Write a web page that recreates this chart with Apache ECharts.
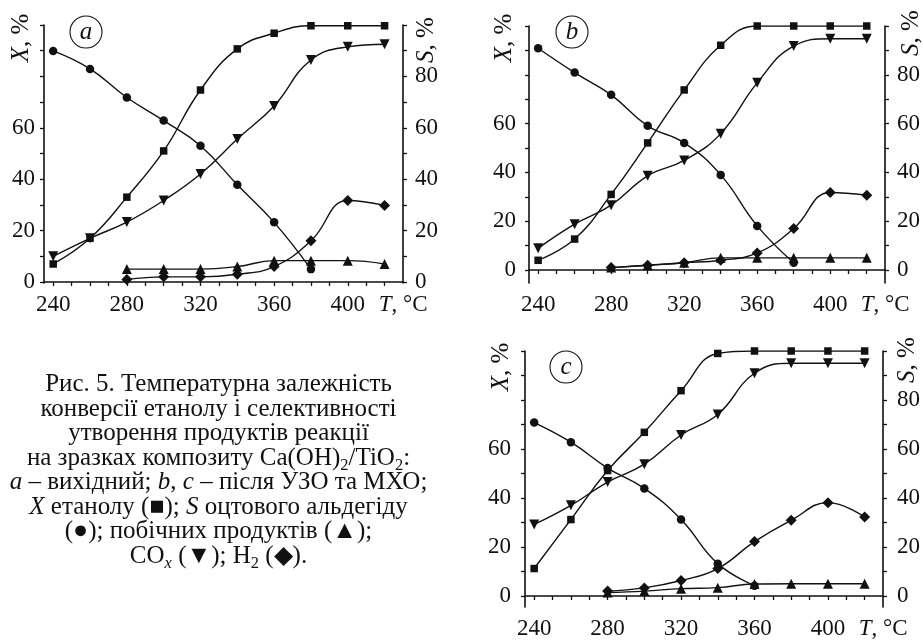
<!DOCTYPE html>
<html>
<head>
<meta charset="utf-8">
<script src="https://cdn.jsdelivr.net/npm/echarts@6/dist/echarts.min.js"></script>
<style>
  html, body { margin: 0; padding: 0; background: #fff; }
  #chart-container { position: absolute; left: 0; top: 0; width: 923px; height: 640px; }
  #caption {
    position: absolute; left: 0; top: 371px; width: 437px;
    text-align: center; white-space: nowrap;
    font-family: 'Liberation Serif', serif; font-size: 25px; line-height: 24.5px; color: #111;
  }
  #caption sub { font-size: 0.66em; line-height: 0; vertical-align: -0.3em; }
</style>
</head>
<body>
<div id="chart-container"></div>
<div id="caption">
  Рис. 5. Температурна залежність<br>
  конверсії етанолу і селективності<br>
  утворення продуктів реакції<br>
  на зразках композиту Ca(OH)<sub>2</sub>/TiO<sub>2</sub>:<br>
  <i>a</i> – вихідний; <i>b</i>, <i>c</i> – після УЗО та МХО;<br>
  <i>X</i> етанолу (■); <i>S</i> оцтового альдегіду<br>
  (●); побічних продуктів (▲);<br>
  CO<sub><i>x</i></sub> (▼); H<sub>2</sub> (◆).
</div>
<script>
// temperatures, °C
var temps = [240, 260, 280, 300, 320, 340, 360, 380, 400, 420];

// panel a – вихідний
var convA = [7, 17, 33, 51, 74.7, 90.7, 96.8, 99.7, 99.7, 99.7];
var acetA = [89.9, 82.9, 71.8, 62.8, 53, 37.8, 23.2, 5, null, null];
var coxA = [10, 17, 23.3, 31.7, 42, 55.6, 68.5, 86.4, 91.5, 92.5];
var byprodA = [null, null, 5, 5, 5, 6, 8.3, 8.3, 8.3, 7];
var h2A = [null, null, 1, 2, 2, 3, 6, 16, 31.7, 29.8];

// panel b – після УЗО
var convB = [4, 12.7, 31, 52.1, 73.8, 92.1, 100, 100, 100, 100];
var acetB = [90.9, 80.9, 71.8, 59.1, 52.1, 39, 18.1, 3, null, null];
var coxB = [8.9, 18.8, 26.6, 38.6, 44.9, 55.9, 76.7, 91.8, 94.8, 94.8];
var byprodB = [null, null, 1, 2, 3, 5, 5, 5, 5, 5];
var h2B = [null, null, 1, 2, 3, 4, 7, 17, 31.8, 30.7];

// panel c – після МХО
var convC = [11.2, 31.2, 51.2, 66.8, 83.8, 99, 100, 100, 100, 100];
var acetC = [70.8, 62.8, 52.2, 43.9, 31.2, 13.2, 4.2, null, null, null];
var coxC = [29.2, 37, 46.5, 53.8, 65.7, 74.1, 90.9, 95, 95, 95];
var byprodC = [null, null, 1.4, 2, 3, 3.4, 4.9, 5, 5, 5];
var h2C = [null, null, 2, 3.3, 6.3, 11.2, 22.2, 30.9, 38.1, 32.2];

var xTicks = [240, 250, 260, 270, 280, 290, 300, 310, 320, 330, 340, 350, 360, 370, 380, 390, 400, 410, 420];
var xLabels = [240, 280, 320, 360, 400, 420];
var yTicks = [0, 10, 20, 30, 40, 50, 60, 70, 80, 90, 100];
var yLabelsLeft = [0, 20, 40, 60];
var yLabelsRight = [0, 20, 40, 60, 80];

var FONT = 'Liberation Serif';
var INK = '#111';
var FS = 23;

var dom = document.getElementById('chart-container');
var myChart = echarts.init(dom, null, { renderer: 'canvas' });

function pairs(vals) {
  var out = [];
  for (var i = 0; i < temps.length; i++) {
    if (vals[i] !== null) out.push([temps[i], vals[i]]);
  }
  return out;
}

var panels = [
  { grid: { left: 44, top: 25, width: 359, height: 258 }, ymin: -0.4, ml: 9, mr: 12,
    sets: [convA, acetA, coxA, byprodA, h2A] },
  { grid: { left: 529, top: 26, width: 359, height: 257 }, ymin: -5.3, ml: 13, mr: 12,
    sets: [convB, acetB, coxB, byprodB, h2B] },
  { grid: { left: 525, top: 351, width: 358, height: 256 }, ymin: -4.5, ml: 14, mr: 14,
    sets: [convC, acetC, coxC, byprodC, h2C] }
];

var markers = [
  { symbol: 'rect', size: 7.5, rotate: 0 },
  { symbol: 'circle', size: 8.5, rotate: 0 },
  { symbol: 'triangle', size: 10, rotate: 180 },
  { symbol: 'triangle', size: 10, rotate: 0 },
  { symbol: 'diamond', size: 11, rotate: 0 }
];

var axisLine = { show: true, lineStyle: { color: INK, width: 1.6 } };
var tick = { show: true, length: 4, lineStyle: { color: INK, width: 1.3 } };

var grids = [], xAxes = [], yAxes = [], series = [];

panels.forEach(function (p, k) {
  grids.push(p.grid);
  xAxes.push({
    type: 'value', gridIndex: k, min: 235, max: 430,
    axisLine: axisLine, splitLine: { show: false },
    axisTick: Object.assign({ customValues: xTicks }, tick),
    axisLabel: {
      customValues: xLabels, margin: 10, color: INK, fontFamily: FONT, fontSize: FS,
      formatter: function (v) { return v === 420 ? '{t|T}{n|, °C}' : String(v); },
      rich: {
        t: { fontFamily: FONT, fontSize: FS, fontStyle: 'italic', color: INK, padding: [0, 0, 0, 37] },
        n: { fontFamily: FONT, fontSize: FS, color: INK }
      }
    }
  });
  yAxes.push({
    type: 'value', gridIndex: k, position: 'left', min: p.ymin, max: 100,
    axisLine: axisLine, splitLine: { show: false },
    axisTick: Object.assign({ customValues: yTicks }, tick),
    axisLabel: { customValues: yLabelsLeft, margin: p.ml, color: INK, fontFamily: FONT, fontSize: FS }
  });
  yAxes.push({
    type: 'value', gridIndex: k, position: 'right', min: p.ymin, max: 100,
    axisLine: axisLine, splitLine: { show: false },
    axisTick: Object.assign({ customValues: yTicks }, tick),
    axisLabel: { customValues: yLabelsRight, margin: p.mr, color: INK, fontFamily: FONT, fontSize: FS }
  });
  p.sets.forEach(function (vals, j) {
    var m = markers[j];
    series.push({
      type: 'line', xAxisIndex: k, yAxisIndex: 2 * k,
      data: pairs(vals), smooth: 0.45,
      symbol: m.symbol, symbolSize: m.size, symbolRotate: m.rotate, showAllSymbol: true,
      lineStyle: { color: INK, width: 1.4 },
      itemStyle: { color: INK },
      silent: true, animation: false
    });
  });
});

function letter(cx, cy, ch) {
  return [
    { type: 'circle', shape: { cx: cx, cy: cy, r: 16 }, style: { fill: 'none', stroke: INK, lineWidth: 1.1 } },
    { type: 'text', x: cx, y: cy, style: { text: ch, fontFamily: FONT, fontSize: 25, fontStyle: 'italic', fill: INK, align: 'center', verticalAlign: 'middle' } }
  ];
}

function axisName(cx, cy, ch) {
  return {
    type: 'text', x: cx, y: cy, rotation: Math.PI / 2,
    style: {
      text: '{i|' + ch + '}{n|, %}', align: 'center', verticalAlign: 'middle',
      rich: {
        i: { fontFamily: FONT, fontSize: 25, fontStyle: 'italic', fill: INK },
        n: { fontFamily: FONT, fontSize: 25, fill: INK }
      }
    }
  };
}

var graphic = [].concat(
  letter(86, 32, 'a'), letter(572, 32, 'b'), letter(566, 367, 'c'),
  [
    axisName(21, 38, 'X'), axisName(426, 40, 'S'),
    axisName(504, 38, 'X'), axisName(911, 33, 'S'),
    axisName(501, 367, 'X'), axisName(907, 360, 'S')
  ]
);

var option = {
  backgroundColor: '#fff',
  animation: false,
  grid: grids,
  xAxis: xAxes,
  yAxis: yAxes,
  series: series,
  graphic: graphic
};

myChart.setOption(option);
window.addEventListener('resize', myChart.resize);
</script>
</body>
</html>
